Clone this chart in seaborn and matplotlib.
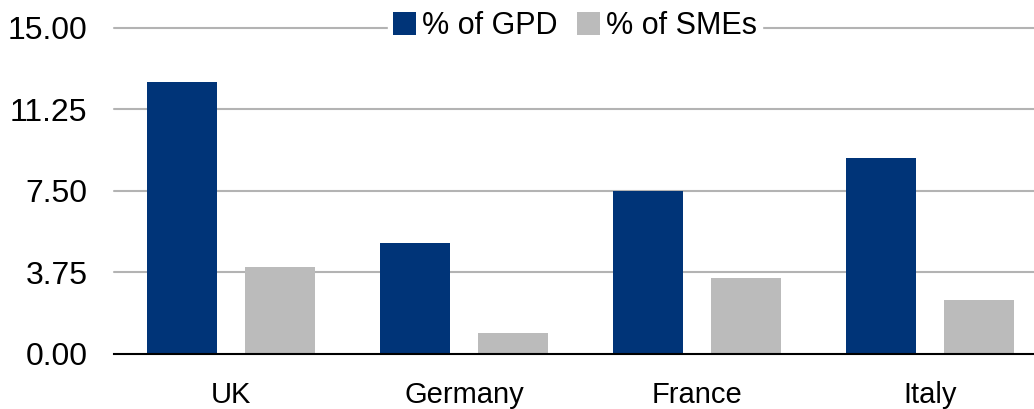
import matplotlib
matplotlib.use("Agg")
import matplotlib.pyplot as plt
import seaborn as sns
import pandas as pd

countries = ["UK", "Germany", "France", "Italy"]
series_names = ["% of GPD", "% of SMEs"]
gdp_values = [12.5, 5.1, 7.5, 9.0]
sme_values = [4.0, 0.94, 3.47, 2.46]
y_ticks = [0.00, 3.75, 7.50, 11.25, 15.00]

df = pd.DataFrame({
    "country": countries * 2,
    "series": [series_names[0]] * len(countries) + [series_names[1]] * len(countries),
    "value": gdp_values + sme_values,
})

sns.set_theme(style="white")
plt.rcParams["font.family"] = ["Liberation Sans", "DejaVu Sans"]

fig = plt.figure(figsize=(10.34, 4.09), dpi=100)
ax = fig.add_axes([114 / 1034, 1 - 353.5 / 409, 933 / 1034, (353.5 - 27.7) / 409])

sns.barplot(data=df, x="country", y="value", hue="series", order=countries,
            hue_order=series_names, palette=["#003478", "#BBBBBB"],
            width=0.84, gap=0.2857, saturation=1, errorbar=None, ax=ax,
            linewidth=0, zorder=3)

ax.set_xlim(-0.5, 3.5)
ax.set_ylim(0, 15)
ax.set_yticks(y_ticks)
ax.set_yticklabels([f"{v:.2f}" for v in y_ticks])
ax.set_xlabel("")
ax.set_ylabel("")
for y in y_ticks[1:]:
    ax.axhline(y, color="#B3B3B3", lw=1.5, zorder=1, clip_on=False)
for s in ["top", "left", "right"]:
    ax.spines[s].set_visible(False)
ax.spines["bottom"].set_color("black")
ax.spines["bottom"].set_linewidth(1.5)
ax.spines["bottom"].set_zorder(4)
ax.tick_params(axis="y", length=0, pad=19, labelsize=23, labelcolor="black")
ax.tick_params(axis="x", length=0, pad=20, labelsize=21, labelcolor="black")

handles, labels = ax.get_legend_handles_labels()
leg = ax.legend(handles, labels, loc="center",
                bbox_to_anchor=(575 / 1034, 1.005), bbox_transform=fig.transFigure
                if False else ax.transAxes, ncol=2,
                frameon=True, fontsize=22, handlelength=0.75, handleheight=0.75,
                handletextpad=0.2, columnspacing=0.65, borderpad=0.15,
                borderaxespad=0, fancybox=False)
leg.set_bbox_to_anchor((575 / 1034, 1 - 26 / 409), transform=fig.transFigure)
leg.get_frame().set_facecolor("white")
leg.get_frame().set_edgecolor("white")
leg.get_frame().set_alpha(1)
leg.set_zorder(5)
for t in leg.get_texts():
    t.set_color("black")

fig.savefig("out.png", dpi=100)
